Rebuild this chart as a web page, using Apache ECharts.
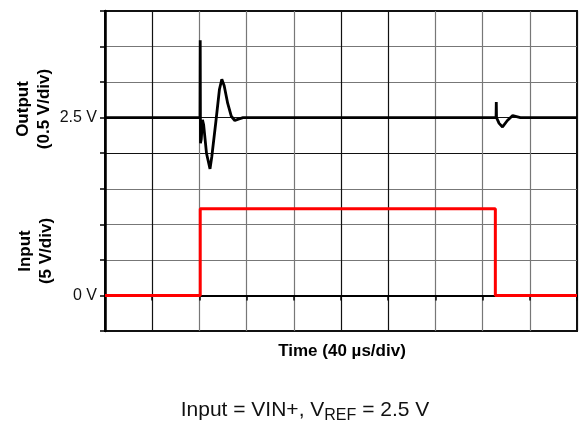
<!DOCTYPE html>
<html>
<head>
<meta charset="utf-8">
<script src="https://cdn.jsdelivr.net/npm/echarts@6/dist/echarts.min.js"></script>
<style>
html,body{margin:0;padding:0;background:#fff;}
#chart{width:579px;height:423px;}
</style>
</head>
<body>
<div id="chart"></div>
<script>
// Time in microseconds, voltages in volts
var outputTimes  = [0, 80.5, 80.7, 80.9, 81.6, 82.6, 83.6, 86, 89, 90.5, 94, 97, 99, 101, 104, 107, 110, 113, 117,
                    331.4, 331.6, 331.8, 334, 336.9, 341, 345.5, 352, 400];
var outputValues = [2.5, 2.5, 3.59, 2.14, 2.2, 2.47, 2.4, 2.0, 1.78, 1.95, 2.45, 2.9, 3.04, 2.95, 2.7, 2.52, 2.46, 2.48, 2.5,
                    2.5, 2.72, 2.5, 2.42, 2.37, 2.46, 2.53, 2.5, 2.5];
var inputTimes  = [0, 80.7, 80.7, 330.8, 330.8, 400];
var inputValues = [0, 0, 12.2, 12.2, 0, 0];
var outputTickLabels = {'2.5': '2.5 V'};
var inputTickLabels  = {'0': '0 V'};
var xTitle = 'Time (40 µs/div)';
var outputTitle = ['Output', '(0.5 V/div)'];
var inputTitle = ['Input', '(5 V/div)'];

function pairs(t, v) { return t.map(function (x, i) { return [x, v[i]]; }); }

var FONT = '"Liberation Sans", Arial, Helvetica, sans-serif';
var G = '#777777', K = '#111111';

var chart = echarts.init(document.getElementById('chart'), null, {renderer: 'canvas'});
chart.setOption({
  animation: false,
  backgroundColor: '#fff',
  grid: {left: 105, right: 2, top: 11, bottom: 92, show: true, borderColor: '#111', borderWidth: 2, backgroundColor: 'transparent'},
  xAxis: {
    type: 'value', min: 0, max: 400, interval: 40,
    axisLine: {show: true, onZero: true, lineStyle: {color: '#000', width: 2}},
    axisTick: {show: true, length: 5, lineStyle: {color: '#000', width: 1.5}},
    axisLabel: {show: false},
    splitLine: {show: true, showMinLine: true, showMaxLine: true,
      lineStyle: {color: [K, K, G, G, G, K, K, G, G, G, K], width: 1.2}}
  },
  yAxis: [{
    type: 'value', min: -0.5, max: 4, interval: 0.5, position: 'left',
    axisLine: {show: true, onZero: false, lineStyle: {color: '#000', width: 2.5}},
    axisTick: {show: true, length: 5, lineStyle: {color: '#000', width: 1.5}},
    axisLabel: {show: true, margin: 8, fontFamily: FONT, fontSize: 16, color: '#111',
      formatter: function (v) { var k = String(+v.toFixed(2)); return outputTickLabels[k] || ''; }},
    splitLine: {show: true, showMinLine: true, showMaxLine: true,
      lineStyle: {color: [K, K, G, G, G, K, K, G, G, K], width: 1.2}}
  }, {
    type: 'value', min: -5, max: 40, interval: 5, position: 'left', offset: 0,
    axisLine: {show: false, onZero: false},
    axisTick: {show: false},
    axisLabel: {show: true, margin: 8, fontFamily: FONT, fontSize: 16, color: '#111',
      formatter: function (v) { var k = String(+v.toFixed(2)); return inputTickLabels[k] || ''; }},
    splitLine: {show: false}
  }],
  series: [{
    type: 'line', yAxisIndex: 0, data: pairs(outputTimes, outputValues),
    symbol: 'none', lineStyle: {color: '#000', width: 2.8}, z: 3
  }, {
    type: 'line', yAxisIndex: 1, data: pairs(inputTimes, inputValues),
    symbol: 'none', lineStyle: {color: '#ff0000', width: 3}, z: 4
  }],
  graphic: [
    {type: 'text', x: 342, y: 351, style: {text: xTitle, font: 'bold 17px ' + FONT, fill: '#000', align: 'center', verticalAlign: 'middle'}},
    {type: 'text', x: 23, y: 109, rotation: Math.PI / 2, style: {text: outputTitle[0], font: 'bold 17px ' + FONT, fill: '#000', align: 'center', verticalAlign: 'middle'}},
    {type: 'text', x: 44, y: 109, rotation: Math.PI / 2, style: {text: outputTitle[1], font: 'bold 17px ' + FONT, fill: '#000', align: 'center', verticalAlign: 'middle'}},
    {type: 'text', x: 25, y: 251, rotation: Math.PI / 2, style: {text: inputTitle[0], font: 'bold 17px ' + FONT, fill: '#000', align: 'center', verticalAlign: 'middle'}},
    {type: 'text', x: 46, y: 251, rotation: Math.PI / 2, style: {text: inputTitle[1], font: 'bold 17px ' + FONT, fill: '#000', align: 'center', verticalAlign: 'middle'}},
    {type: 'text', x: 305, y: 410, style: {
      text: '{m|Input = VIN+, V}{s|REF}{m| = 2.5 V}', align: 'center', verticalAlign: 'middle',
      rich: {
        m: {fontFamily: FONT, fontSize: 21, lineHeight: 27, fill: '#111', color: '#111', verticalAlign: 'middle'},
        s: {fontFamily: FONT, fontSize: 16, lineHeight: 16, fill: '#111', color: '#111', verticalAlign: 'bottom'}
      }}}
  ]
});
</script>
</body>
</html>
